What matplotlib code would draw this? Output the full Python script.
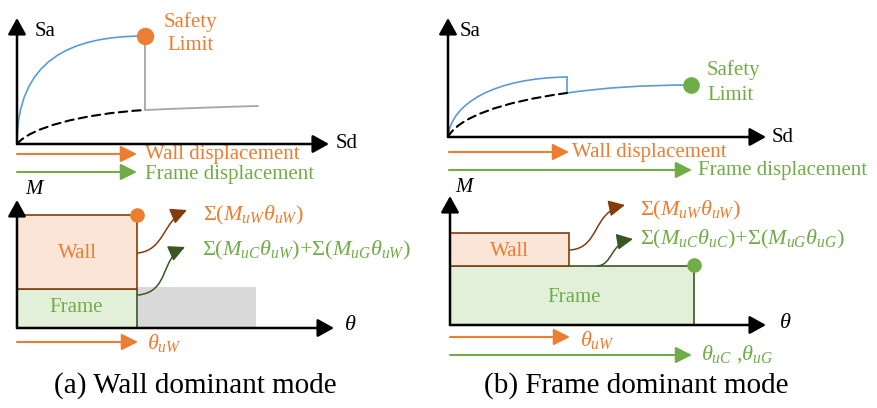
import matplotlib
matplotlib.use("Agg")
import matplotlib.pyplot as plt
from matplotlib.patches import Rectangle, FancyArrowPatch, ArrowStyle
from matplotlib.path import Path

plt.rcParams['font.family'] = ['Liberation Serif', 'DejaVu Serif']
plt.rcParams['mathtext.fontset'] = 'custom'
plt.rcParams['mathtext.rm'] = 'Liberation Serif'
plt.rcParams['mathtext.it'] = 'Liberation Serif:italic'

ORANGE = '#ED7D31'
GREEN = '#70AD47'
BLUE = '#5B9BD5'
BROWN = '#843C0C'
DKGREEN = '#385723'
GRAY = '#A6A6A6'
GRAYFILL = '#D9D9D9'
WALLFILL = '#FBE5D6'
FRAMEFILL = '#E2F0D9'

# capacity curves (bezier control points, canvas pixels, y down)
curve_a_total = [(17, 144), (17, 60), (70, 36), (145, 36)]
curve_a_frame = [(17, 144), (30, 128), (80, 114), (145, 110)]
drop_a = [(145, 36), (145, 110)]
residual_a = [(145, 110), (200, 107.5), (258, 106)]
curve_b_total = [(448, 137), (451, 103), (495, 78), (567, 77)]
drop_b = [(567, 77), (567, 93)]
curve_b_after = [(567, 93), (620, 85), (691, 85)]
curve_b_frame = [(448, 137), (458, 118), (500, 102), (567, 93)]
limit_a = (145, 36)
limit_b = (691, 85)

# moment bars: x, y_top, width, height
wall_a = (17, 215, 120, 74)
frame_a = (17, 289, 120, 39)
gray_a = (137, 287, 119, 41)
wall_b = (450, 233, 119, 33)
frame_b = (450, 266, 244, 59)
dot_a = (137, 215)
dot_b = (694, 265)

# curved leader arrows
lead_a_wall = [(138, 253), (165, 250), (163, 220), (187, 210)]
lead_a_frame = [(138, 295), (170, 292), (160, 258), (185, 247)]
lead_b_wall = [(570, 250), (600, 248), (592, 212), (625, 205)]
lead_b_frame = [(597, 266), (613, 265), (610, 243), (633, 239)]

# coordinate axes: origin, x tip, y tip
axes_list = [((17, 144), 329, 18), ((17, 328), 334, 200),
             ((448, 137), 766, 18), ((450, 325), 766, 196)]

# displacement / rotation arrows: x0, x1, y, colour
disp_arrows = [(17, 137, 154, ORANGE), (17, 137, 172, GREEN),
               (449, 569, 152, ORANGE), (449, 692, 170, GREEN),
               (17, 138, 342, ORANGE),
               (450, 570, 337, ORANGE), (450, 692, 355, GREEN)]

fig = plt.figure(figsize=(8.77, 4.08), dpi=100)
ax = fig.add_axes([0, 0, 1, 1])
ax.set_xlim(0, 877)
ax.set_ylim(408, 0)
ax.axis('off')


def bez(pts, color, lw, ls='-', arrow=False, z=3):
    if len(pts) == 4:
        codes = [Path.MOVETO, Path.CURVE4, Path.CURVE4, Path.CURVE4]
    elif len(pts) == 3:
        codes = [Path.MOVETO, Path.CURVE3, Path.CURVE3]
    else:
        codes = [Path.MOVETO, Path.LINETO]
    p = Path(pts, codes)
    if arrow:
        st = ArrowStyle('-|>', head_length=0.9, head_width=0.45)
        a = FancyArrowPatch(path=p, arrowstyle=st, mutation_scale=11,
                            color=color, lw=lw, zorder=z)
    else:
        a = FancyArrowPatch(path=p, arrowstyle='-', color=color, lw=lw,
                            linestyle=ls, zorder=z)
    ax.add_patch(a)


def arrow(x0, y0, x1, y1, color, lw, hl=0.9, hw=0.45, ms=10):
    st = ArrowStyle('-|>', head_length=hl, head_width=hw)
    ax.add_patch(FancyArrowPatch((x0, y0), (x1, y1), arrowstyle=st,
                                 mutation_scale=ms, color=color, lw=lw,
                                 shrinkA=0, shrinkB=0, zorder=4))


# axes
for (ox, oy), xt, yt in axes_list:
    arrow(ox, oy, xt, oy, 'black', 1.8, hw=0.5, ms=11)
    arrow(ox, oy, ox, yt, 'black', 1.8, hw=0.5, ms=11)

# capacity curves
bez(curve_a_total, BLUE, 1.2)
bez(curve_a_frame, 'black', 1.5, ls=(0, (4, 2.5)))
bez(drop_a, GRAY, 1.3)
bez(residual_a, GRAY, 1.3)
bez(curve_b_total, BLUE, 1.2)
bez(drop_b, BLUE, 1.2)
bez(curve_b_after, BLUE, 1.2)
bez(curve_b_frame, 'black', 1.5, ls=(0, (4, 2.5)))
ax.plot(*limit_a, 'o', ms=11.5, color=ORANGE, zorder=5)
ax.plot(*limit_b, 'o', ms=11, color=GREEN, zorder=5)

# moment bars
ax.add_patch(Rectangle(gray_a[:2], gray_a[2], gray_a[3], fc=GRAYFILL, ec='none', zorder=1))
for r, fc, ec in [(frame_a, FRAMEFILL, DKGREEN), (wall_a, WALLFILL, BROWN),
                  (frame_b, FRAMEFILL, DKGREEN), (wall_b, WALLFILL, BROWN)]:
    ax.add_patch(Rectangle(r[:2], r[2], r[3], fc=fc, ec=ec, lw=1.2, zorder=2))
ax.plot(*dot_a, 'o', ms=9.5, color=ORANGE, zorder=5)
ax.plot(*dot_b, 'o', ms=9.5, color=GREEN, zorder=5)

bez(lead_a_wall, BROWN, 1.1, arrow=True)
bez(lead_a_frame, DKGREEN, 1.1, arrow=True)
bez(lead_b_wall, BROWN, 1.1, arrow=True)
bez(lead_b_frame, DKGREEN, 1.1, arrow=True)

for x0, x1, y, c in disp_arrows:
    arrow(x0, y, x1, y, c, 1.5, hl=1.0, hw=0.5, ms=10)

fs = 15
kw = dict(va='center', fontsize=fs)
mk = dict(va='center', fontsize=16)
# panel (a) labels
ax.text(45, 31, 'Sa', ha='center', **kw)
ax.text(347, 143, 'Sd', ha='center', **kw)
ax.text(190, 22, 'Safety', ha='center', color=ORANGE, **kw)
ax.text(190, 46, 'Limit', ha='center', color=ORANGE, **kw)
ax.text(145, 155, 'Wall displacement', ha='left', color=ORANGE, **kw)
ax.text(145, 175, 'Frame displacement', ha='left', color=GREEN, **kw)
ax.text(35, 190, '$M$', ha='center', **kw)
ax.text(350, 325, r'$\theta$', ha='center', **mk)
ax.text(77, 253, 'Wall', ha='center', color=ORANGE, **kw)
ax.text(76, 308, 'Frame', ha='center', color=GREEN, **kw)
ax.text(203, 215, r'$\Sigma(M_{uW}\theta_{uW})$', ha='left', color=ORANGE, **mk)
ax.text(202, 250, r'$\Sigma(M_{uC}\theta_{uW})$+$\Sigma(M_{uG}\theta_{uW})$',
        ha='left', color=GREEN, **mk)
ax.text(147, 343, r'$\theta_{uW}$', ha='left', color=ORANGE, **mk)
ax.text(195, 386, '(a) Wall dominant mode', ha='center', va='center', fontsize=21)

# panel (b) labels
ax.text(470, 32, 'Sa', ha='center', **kw)
ax.text(783, 137, 'Sd', ha='center', **kw)
ax.text(733, 70, 'Safety', ha='center', color=GREEN, **kw)
ax.text(730, 96, 'Limit', ha='center', color=GREEN, **kw)
ax.text(572, 152, 'Wall displacement', ha='left', color=ORANGE, **kw)
ax.text(698, 170, 'Frame displacement', ha='left', color=GREEN, **kw)
ax.text(465, 188, '$M$', ha='center', **kw)
ax.text(785, 323, r'$\theta$', ha='center', **mk)
ax.text(509, 251, 'Wall', ha='center', color=ORANGE, **kw)
ax.text(574, 297, 'Frame', ha='center', color=GREEN, **kw)
ax.text(640, 210, r'$\Sigma(M_{uW}\theta_{uW})$', ha='left', color=ORANGE, **mk)
ax.text(640, 239, r'$\Sigma(M_{uC}\theta_{uC})$+$\Sigma(M_{uG}\theta_{uG})$',
        ha='left', color=GREEN, **mk)
ax.text(580, 340, r'$\theta_{uW}$', ha='left', color=ORANGE, **mk)
ax.text(701, 354, r'$\theta_{uC}$ ,$\theta_{uG}$', ha='left', color=GREEN, **mk)
ax.text(636, 386, '(b) Frame dominant mode', ha='center', va='center', fontsize=21)

fig.savefig('out.png', dpi=100)
